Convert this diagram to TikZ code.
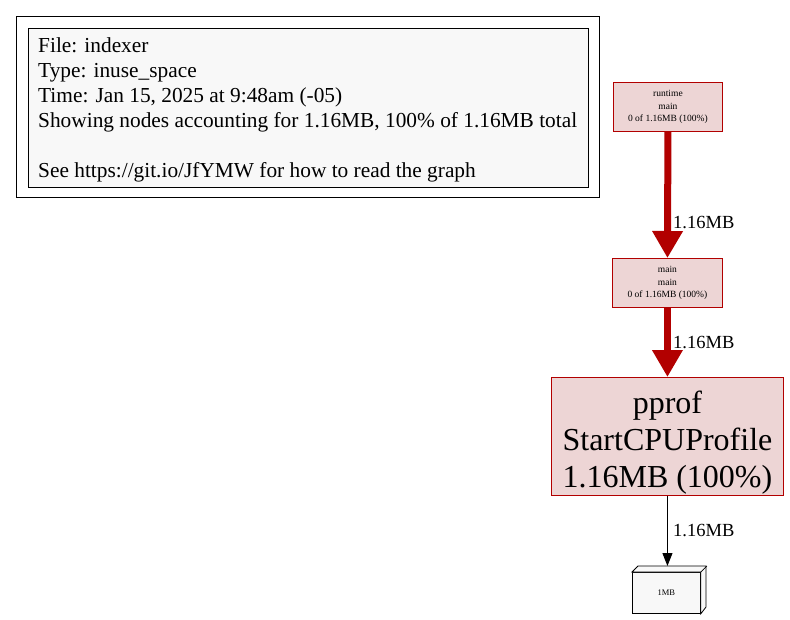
\documentclass[tikz,border=0pt]{standalone}
\usepackage{fontspec}
\setmainfont{Liberation Serif}
\usetikzlibrary{arrows.meta}
\definecolor{nodefill}{HTML}{EDD5D5}
\definecolor{nodeline}{HTML}{B20000}
\definecolor{legendfill}{HTML}{F8F8F8}
\tikzset{
  fnode/.style={draw=nodeline, fill=nodefill, line width=0.9pt, inner sep=0pt, align=center},
  hot/.style={draw=nodeline, line width=7pt, -{Triangle[length=27pt,width=29pt]}},
  cold/.style={draw=black, line width=1pt, -{Triangle[length=13pt,width=10pt]}},
  elabel/.style={font=\fontsize{18.5}{18.5}\selectfont, anchor=west, inner sep=0pt},
}
\begin{document}
\begin{tikzpicture}[x=1pt,y=-1pt]
\useasboundingbox (0,0) rectangle (790,619);
\fill[white] (0,0) rectangle (790,619);
% legend
\node[draw=black, line width=0.8pt, minimum width=583pt, minimum height=181pt, anchor=north west] (outer) at (16,16) {};
\node[draw=black, fill=legendfill, line width=0.8pt, minimum width=560pt, minimum height=159pt, anchor=north west] (inner) at (28,28) {};
\node[anchor=north west, align=left, inner sep=0pt, font=\fontsize{21.35}{25}\selectfont] (legend) at (38,37)
 {File: indexer\\Type: inuse\_space\\Time: Jan 15, 2025 at 9:48am (-05)\\Showing nodes accounting for 1.16MB, 100\% of 1.16MB total\\[25pt]See https://git.io/JfYMW for how to read the graph};
% nodes
\node[fnode, minimum width=109pt, minimum height=49pt, anchor=north west, font=\fontsize{9.5}{12.5}\selectfont] (rt) at (613,82) {runtime\\main\\0 of 1.16MB (100\%)};
\node[fnode, minimum width=110pt, minimum height=49pt, anchor=north west, font=\fontsize{9.5}{12.5}\selectfont] (mm) at (612,258) {main\\main\\0 of 1.16MB (100\%)};
\node[fnode, minimum width=232pt, minimum height=118pt, anchor=north west] (pp) at (551,377) {};
\node[align=center, inner sep=0pt, font=\fontsize{32}{37}\selectfont] (pptext) at ([yshift=-6pt]pp.center) {pprof\\StartCPUProfile\\1.16MB (100\%)};
% box3d
\node[draw=black, fill=legendfill, line width=0.8pt, minimum width=68pt, minimum height=41pt, anchor=north west, font=\fontsize{8.5}{9}\selectfont] (mb) at (632,572) {1MB};
\draw[line width=0.8pt, fill=legendfill] (mb.north west) -- ++(6,-6) -- ++(68,0) -- ++(0,41) -- (mb.south east) -- (mb.north east) -- cycle;
\draw[line width=0.8pt] (mb.north east) -- ++(6,-6);
\coordinate (mbtop) at ([yshift=6pt]mb.north -| pp.south);
% edges
\draw[hot] (rt.south) -- (mm.north);
\draw[hot] (mm.south) -- (pp.north);
\draw[cold] (pp.south) -- (mbtop);
\node[elabel] (l1) at (673,223) {1.16MB};
\node[elabel] (l2) at (673,342) {1.16MB};
\node[elabel] (l3) at (673,530) {1.16MB};
\end{tikzpicture}
\end{document}
